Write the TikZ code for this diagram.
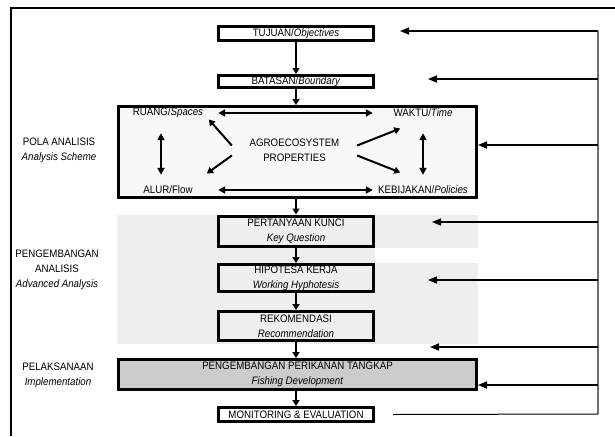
\documentclass[tikz,border=0pt]{standalone}
\usepackage{fontspec}
\setmainfont{Liberation Sans}[FakeStretch=0.9]
\usetikzlibrary{arrows.meta}
\definecolor{bandgray}{HTML}{EEEEEE}
\definecolor{polafill}{HTML}{F8F8F8}
\definecolor{penfill}{HTML}{CCCCCC}
\definecolor{fbgray}{HTML}{707070}
\begin{document}
\begin{tikzpicture}[x=1pt,y=-1pt, font=\fontsize{10.8}{15}\selectfont,
 box/.style={draw, line width=3pt, inner sep=0pt, align=center, minimum width=155pt},
 lbl/.style={inner sep=0pt, align=center},
 arr/.style={line width=2pt, -{Triangle[length=6pt,width=7pt]}},
 dbl/.style={line width=2pt, {Triangle[length=7pt,width=7pt]}-{Triangle[length=7pt,width=7pt]}},
 fb/.style={line width=1.5pt, -{Triangle[length=9pt,width=7pt]}},
]
\useasboundingbox (0,0) rectangle (615,436);
\fill[white] (0,0) rectangle (615,436);
% background bands
\fill[bandgray] (117,215) rectangle (478,248);
\fill[bandgray] (117,248) rectangle (375,263);
\fill[bandgray] (117,263) rectangle (478,344);
% outer frame
\draw[line width=2.5pt] (615,8) -- (11,8) -- (11,436);

% main boxes
\node[box, fill=white, minimum height=14pt] (tuj) at (296,33.5) {TUJUAN/\textit{Objectives}};
\node[box, fill=white, minimum height=12pt] (bat) at (296,81.5) {BATASAN/\textit{Boundary}};
\node[box, fill=polafill, minimum width=358pt, minimum height=91pt] (pola) at (297.5,152) {};
\node[box, minimum height=30pt] (per) at (296,231) {PERTANYAAN KUNCI\\\textit{Key Question}};
\node[box, minimum height=27pt] (hip) at (296,278) {HIPOTESA KERJA\\\textit{Working Hyphotesis}};
\node[box, minimum height=29pt] (rek) at (296,326) {REKOMENDASI\\\textit{Recommendation}};
\node[box, fill=penfill, minimum width=358pt, minimum height=30pt] (pen) at (297.5,374.5) {PENGEMBANGAN PERIKANAN TANGKAP\\\textit{Fishing Development}};
\node[box, fill=white, minimum height=14pt] (mon) at (296,414.5) {MONITORING \& EVALUATION};

% inside analysis scheme
\node[lbl, minimum width=100pt, minimum height=40pt] (ru) at (168,113) {RUANG/\textit{Spaces}};
\node[lbl, minimum width=100pt, minimum height=40pt] (wa) at (423,113) {WAKTU/\textit{Time}};
\node[lbl, minimum width=100pt, minimum height=30pt] (al) at (168,190) {ALUR/Flow};
\node[lbl, minimum width=100pt, minimum height=30pt] (ke) at (423,190) {KEBIJAKAN/\textit{Policies}};
\node[lbl, minimum width=125pt] (ag) at (294.5,150.5) {AGROECOSYSTEM\\PROPERTIES};

\draw[dbl] (ru.east) -- (wa.west);
\draw[dbl] (al.east) -- (ke.west);
\draw[dbl] ([xshift=-7pt]ru.south) -- ([xshift=-7pt]al.north);
\draw[dbl] (wa.south) -- (ke.north);
\draw[arr] ([yshift=5pt]ag.west) -- ++(-23,-26);
\draw[arr] ([yshift=-5pt]ag.west) -- ++(-25,18);
\draw[arr] ([yshift=5pt]ag.east) -- ++(43,-17);
\draw[arr] ([yshift=-5pt]ag.east) -- ++(43,17);

% left labels
\node[lbl] (la) at (59,150.5) {POLA ANALISIS\\\textit{Analysis Scheme}};
\node[lbl] (lb) at (57,270) {PENGEMBANGAN\\ANALISIS\\\textit{Advanced Analysis}};
\node[lbl] (lc) at (58,375) {PELAKSANAAN\\\textit{Implementation}};

% downward flow
\draw[arr] (tuj.south) -- (bat.north);
\draw[arr] (bat.south) -- (bat.south |- pola.north);
\draw[arr] (per.north |- pola.south) -- (per.north);
\draw[arr] (per.south) -- (hip.north);
\draw[arr] (hip.south) -- (rek.north);
\draw[arr] (rek.south) -- (rek.south |- pen.north);
\draw[arr] (mon.north |- pen.south) -- (mon.north);

% feedback loop
\coordinate (ftop) at (598,31);
\coordinate (fbot) at (598,414);
\draw[fbgray, line width=1.2pt] (ftop) -- (fbot);
\draw[line width=1pt] ([xshift=18pt]mon.east) -- (fbot);
\coordinate (f2) at (598,79);
\coordinate (f3) at (598,145);
\coordinate (f4) at (598,222);
\coordinate (f5) at (598,280);
\coordinate (f6) at (598,347);
\coordinate (f7) at (598,385);
\coordinate (t1) at (400,31);
\coordinate (t2) at (428,79);
\coordinate (t4) at (432,222);
\coordinate (t5) at (428,280);
\coordinate (t6) at (430,347);
\draw[fb] (ftop) -- (t1);
\draw[fb] (f2) -- (t2);
\draw[fb] (f3) -- (f3 -| pola.east);
\draw[fb] (f4) -- (t4);
\draw[fb] (f5) -- (t5);
\draw[fb] (f6) -- (t6);
\draw[fb] (f7) -- (f7 -| pen.east);
\end{tikzpicture}
\end{document}
